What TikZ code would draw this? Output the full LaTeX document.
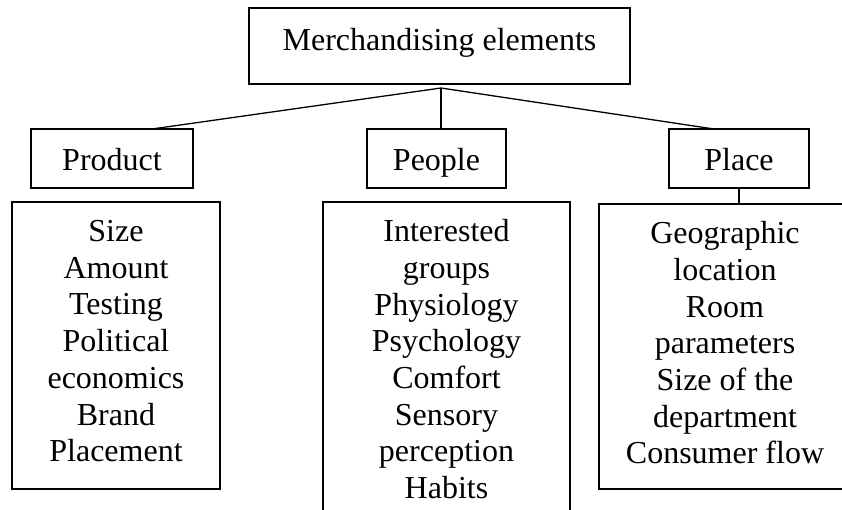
\documentclass[tikz,border=0pt]{standalone}
\usepackage{fontspec}
\setmainfont{Liberation Serif}
\begin{document}
\begin{tikzpicture}[x=1pt,y=-1pt,
  box/.style={draw=black, line width=1.4pt, inner sep=0pt, fill=none},
  hbox/.style={box, anchor=base, text height=41pt, text depth=18pt},
  listtext/.style={align=center, inner sep=0pt, anchor=north, font=\fontsize{32}{36.7}\selectfont},
  conn/.style={draw=black, line width=1.3pt},
  font=\fontsize{32}{36.7}\selectfont]
\useasboundingbox (0,0) rectangle (842,509);
\clip (0,0) rectangle (842,509);
% top
\node[box, anchor=base, text height=42pt, text depth=34pt, minimum width=381pt] (top) at (439.5,50) {Merchandising elements};
% second level
\node[hbox, minimum width=162pt] (product) at (112,170) {Product};
\node[hbox, minimum width=139pt] (people) at (436.5,170) {People};
\node[hbox, minimum width=140pt] (place) at (739,170) {Place};
% list boxes
\node[box, minimum width=208pt, minimum height=287pt] (plist) at (116,345.5) {};
\node[box, minimum width=247pt, minimum height=323pt] (pelist) at (446.5,363.5) {};
\node[box, minimum width=252pt, minimum height=285pt] (pllist) at (725,346.5) {};
% list texts
\node[listtext] (ptext) at (116,220.2) {Size\\Amount\\Testing\\Political\\economics\\Brand\\Placement};
\node[listtext] (petext) at (446.5,219.2) {Interested\\groups\\Physiology\\Psychology\\Comfort\\Sensory\\perception\\Habits};
\node[listtext] (pltext) at (725,221.2) {Geographic\\location\\Room\\parameters\\Size of the\\department\\Consumer flow};
% connectors
\coordinate (apex) at (441,88);
\coordinate (prodend) at (152,129);
\coordinate (placeend) at (714,129);
\draw[conn] (apex) -- (prodend);
\draw[conn] (apex) -- (apex |- people.north);
\draw[conn] (apex) -- (placeend);
\draw[conn] (place.south) -- (place.south |- pllist.north);
\end{tikzpicture}
\end{document}
